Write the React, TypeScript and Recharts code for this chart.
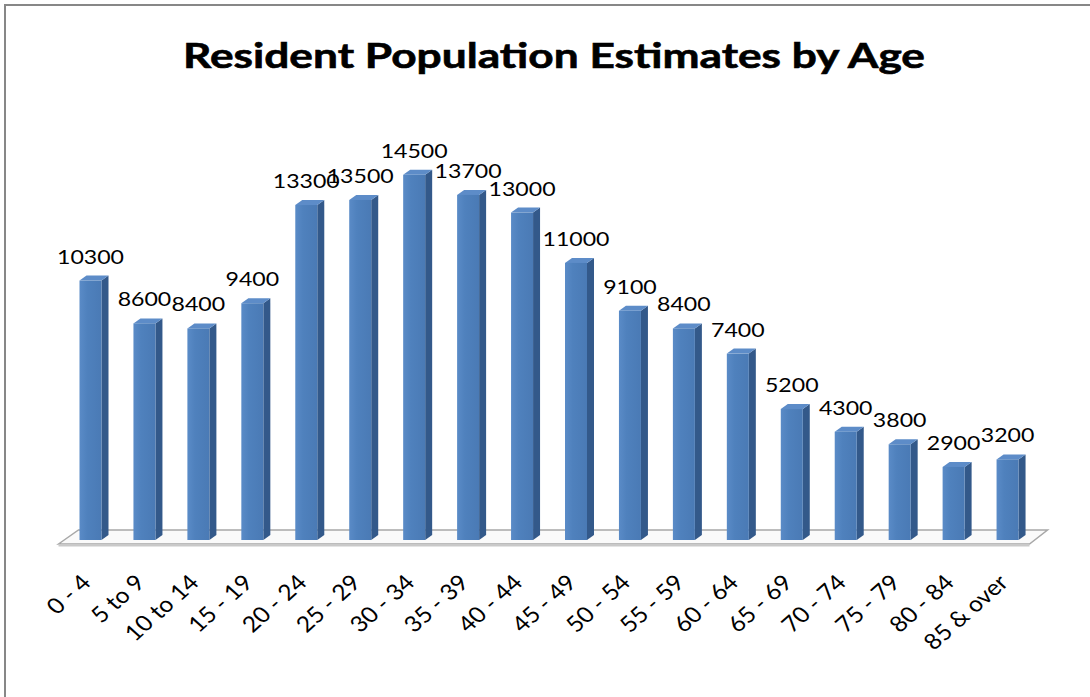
import { BarChart, Bar, XAxis, YAxis, LabelList, ReferenceArea } from "recharts"

const ageGroups = [
  "0 - 4", "5 to 9", "10 to 14", "15 - 19", "20 - 24", "25 - 29", "30 - 34", "35 - 39", "40 - 44",
  "45 - 49", "50 - 54", "55 - 59", "60 - 64", "65 - 69", "70 - 74", "75 - 79", "80 - 84", "85 & over",
]
const residents = [
  10300, 8600, 8400, 9400, 13300, 13500, 14500, 13700, 13000,
  11000, 9100, 8400, 7400, 5200, 4300, 3800, 2900, 3200,
]
const chartTitle = "Resident Population Estimates by Age"

const data = ageGroups.map((age, i) => ({ age, value: residents[i] }))

const FONT = "Lato, 'Open Sans', sans-serif"
const DEPTH_X = 7
const DEPTH_Y = 5

// 3D column: front face, dark right side, lighter cap
function Column3D(props: any) {
  const { x, y, width, height } = props
  if (!height || height <= 0) return null
  const r = x + width
  const b = y + height
  return (
    <g>
      <polygon
        points={`${r},${y} ${r + DEPTH_X},${y - DEPTH_Y} ${r + DEPTH_X},${b - DEPTH_Y} ${r},${b}`}
        fill="#33598A"
      />
      <polygon
        points={`${x},${y} ${x + DEPTH_X},${y - DEPTH_Y} ${r + DEPTH_X},${y - DEPTH_Y} ${r},${y}`}
        fill="#5D8CC8"
      />
      <rect x={x} y={y} width={width} height={height} fill="url(#frontFace)" />
    </g>
  )
}

// floor slab under the columns
function Floor(props: any) {
  const { x, y, width } = props
  const xr = x + width
  const front = y + 4
  const back = y - 10
  return (
    <g>
      <polygon
        points={`${x - 5},${front} ${x + 15},${back} ${xr + 13},${back} ${xr - 5},${front}`}
        fill="#FAFAFA"
        stroke="#A8A8A8"
        strokeWidth={1.5}
      />
      <rect x={x - 5} y={front} width={width} height={2.5} fill="#C9C9C9" />
    </g>
  )
}

function ValueLabel(props: any) {
  const { x, y, width, value } = props
  const text = String(value)
  return (
    <text
      x={x + width / 2}
      y={y - 17}
      textAnchor="middle"
      fontFamily={FONT}
      fontSize={20}
      fill="#000"
      textLength={text.length * 13.4}
      lengthAdjust="spacingAndGlyphs"
    >
      {text}
    </text>
  )
}

function AgeTick(props: any) {
  const { x, y, payload } = props
  return (
    <g transform={`translate(${x + 2},${y + 44}) scale(1.12,1)`}>
      <text transform="rotate(-45)" textAnchor="end" fontFamily={FONT} fontSize={22} fill="#000">
        {payload.value}
      </text>
    </g>
  )
}

export default function App() {
  return (
    <div
      style={{
        position: "absolute",
        left: 0,
        top: 0,
        width: 1090,
        height: 697,
        background: "#fff",
        overflow: "hidden",
        fontFamily: FONT,
      }}
    >
      <div
        style={{
          position: "absolute",
          left: 4,
          top: 4,
          width: 1120,
          height: 720,
          border: "2px solid #878787",
        }}
      />
      <svg width={1090} height={100} style={{ position: "absolute", left: 0, top: 0 }}>
        <text
          x={554}
          y={68}
          textAnchor="middle"
          fontFamily={FONT}
          fontWeight={700}
          fontSize={34}
          fill="#000"
          stroke="#000"
          strokeWidth={0.6}
          textLength={742}
          lengthAdjust="spacingAndGlyphs"
        >
          {chartTitle}
        </text>
      </svg>
      <div style={{ position: "absolute", left: 0, top: 0 }}>
        <BarChart
          width={1090}
          height={697}
          data={data}
          margin={{ top: 137, right: 55.5, bottom: 37, left: 63.5 }}
          barSize={22}
        >
          <defs>
            <linearGradient id="frontFace" x1="0" y1="0" x2="1" y2="0">
              <stop offset="0%" stopColor="#5A8BC7" />
              <stop offset="35%" stopColor="#4F81BD" />
              <stop offset="100%" stopColor="#4A7AB5" />
            </linearGradient>
          </defs>
          <ReferenceArea
            x1={ageGroups[0]}
            x2={ageGroups[ageGroups.length - 1]}
            y1={0}
            y2={0}
            shape={<Floor />}
            ifOverflow="visible"
          />
          <XAxis
            dataKey="age"
            height={120}
            interval={0}
            axisLine={false}
            tickLine={false}
            tickSize={0}
            tickMargin={0}
            tick={<AgeTick />}
          />
          <YAxis hide domain={[0, 16000]} />
          <Bar dataKey="value" shape={<Column3D />} isAnimationActive={false}>
            <LabelList dataKey="value" content={<ValueLabel />} />
          </Bar>
        </BarChart>
      </div>
    </div>
  )
}
